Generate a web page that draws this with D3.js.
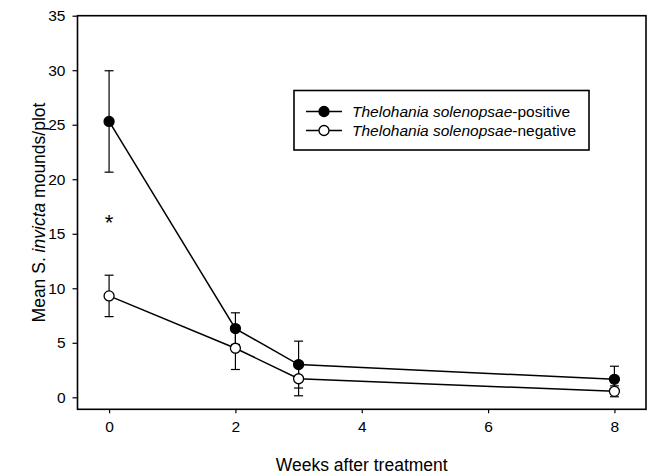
<!DOCTYPE html>
<html>
<head>
<meta charset="utf-8">
<script src="https://cdn.jsdelivr.net/npm/d3@7"></script>
<style>
  html, body { margin: 0; padding: 0; background: #fff; }
  svg { display: block; font-family: "Liberation Sans", Arial, sans-serif; }
</style>
</head>
<body>
<div id="chart"></div>
<script>
const weeks = [0, 2, 3, 8];
const positiveMean = [25.3, 6.3, 3.0, 1.65];
const positiveSE = [4.65, 1.45, 2.15, 1.2];
const negativeMean = [9.3, 4.5, 1.7, 0.55];
const negativeSE = [1.9, 1.95, 1.56, 0.5];
const xTicks = [0, 2, 4, 6, 8];
const yTicks = [0, 5, 10, 15, 20, 25, 30, 35];
const seriesNames = ['Thelohania solenopsae', 'Thelohania solenopsae'];
const seriesSuffix = ['-positive', '-negative'];
const asterisk = { week: 0, value: 16.4 };

const width = 652;
const height = 475;
const svg = d3.select('#chart').append('svg')
    .attr('width', width)
    .attr('height', height);

const x = d3.scaleLinear().domain([-0.5, 8.5]).range([77.5, 646]);
const y = d3.scaleLinear().domain([-1.1, 35]).range([409.3, 15.7]);

// frame
svg.append('rect')
    .attr('x', x.range()[0])
    .attr('y', y.range()[1])
    .attr('width', x.range()[1] - x.range()[0])
    .attr('height', y.range()[0] - y.range()[1])
    .attr('fill', 'none')
    .attr('stroke', '#000')
    .attr('stroke-width', 1.6);

const xAxis = svg.append('g')
    .attr('transform', `translate(0,${y.range()[0]})`)
    .call(d3.axisBottom(x).tickValues(xTicks).tickSize(4).tickPadding(8).tickFormat(d3.format('d')));
const yAxis = svg.append('g')
    .attr('transform', `translate(${x.range()[0]},0)`)
    .call(d3.axisLeft(y).tickValues(yTicks).tickSize(5).tickPadding(7).tickFormat(d3.format('d')));

[xAxis, yAxis].forEach(a => {
    a.select('.domain').remove();
    a.selectAll('line').attr('stroke', '#000').attr('stroke-width', 1.2);
    a.selectAll('text')
        .attr('fill', '#000')
        .style('font-size', '15.5px')
        .style('font-family', '"Liberation Sans", Arial, sans-serif');
});

// axis titles
svg.append('text')
    .attr('x', (x.range()[0] + x.range()[1]) / 2)
    .attr('y', 471)
    .attr('text-anchor', 'middle')
    .style('font-size', '17.5px')
    .text('Weeks after treatment');

const yTitle = svg.append('text')
    .attr('transform', `translate(45,${(y.range()[0] + y.range()[1]) / 2}) rotate(-90)`)
    .attr('text-anchor', 'middle')
    .style('font-size', '17.5px');
yTitle.append('tspan').text('Mean S. ');
yTitle.append('tspan').style('font-style', 'italic').text('invicta');
yTitle.append('tspan').text(' mounds/plot');

const series = [
    { mean: positiveMean, se: positiveSE, fill: '#000' },
    { mean: negativeMean, se: negativeSE, fill: '#fff' }
];

const line = d3.line().x(d => x(d[0])).y(d => y(d[1]));

series.forEach(s => {
    const pts = weeks.map((w, i) => [w, s.mean[i], s.se[i]]);
    svg.append('path')
        .datum(pts)
        .attr('fill', 'none')
        .attr('stroke', '#000')
        .attr('stroke-width', 1.5)
        .attr('d', line);
});

series.forEach(s => {
    const pts = weeks.map((w, i) => [w, s.mean[i], s.se[i]]);
    const g = svg.append('g');
    const eb = g.selectAll('.eb').data(pts).enter().append('g');
    eb.append('line')
        .attr('x1', d => x(d[0])).attr('x2', d => x(d[0]))
        .attr('y1', d => y(d[1] - d[2])).attr('y2', d => y(d[1] + d[2]))
        .attr('stroke', '#000').attr('stroke-width', 1.2);
    [-1, 1].forEach(sign => {
        eb.append('line')
            .attr('x1', d => x(d[0]) - 4.5).attr('x2', d => x(d[0]) + 4.5)
            .attr('y1', d => y(d[1] + sign * d[2])).attr('y2', d => y(d[1] + sign * d[2]))
            .attr('stroke', '#000').attr('stroke-width', 1.2);
    });
    g.selectAll('circle').data(pts).enter().append('circle')
        .attr('cx', d => x(d[0]))
        .attr('cy', d => y(d[1]))
        .attr('r', 5)
        .attr('fill', s.fill)
        .attr('stroke', '#000')
        .attr('stroke-width', 1.3);
});

// significance marker
svg.append('text')
    .attr('x', x(asterisk.week))
    .attr('y', y(asterisk.value) + 12)
    .attr('text-anchor', 'middle')
    .style('font-size', '22px')
    .text('*');

// legend
const legend = svg.append('g');
legend.append('rect')
    .attr('x', 294).attr('y', 90.5)
    .attr('width', 295).attr('height', 59.5)
    .attr('fill', '#fff')
    .attr('stroke', '#000')
    .attr('stroke-width', 1.6);

series.forEach((s, i) => {
    const ly = 111.5 + i * 19;
    legend.append('line')
        .attr('x1', 306).attr('x2', 342)
        .attr('y1', ly).attr('y2', ly)
        .attr('stroke', '#000').attr('stroke-width', 1.3);
    legend.append('circle')
        .attr('cx', 324).attr('cy', ly).attr('r', 5)
        .attr('fill', s.fill).attr('stroke', '#000').attr('stroke-width', 1.3);
    const t = legend.append('text')
        .attr('x', 352).attr('y', ly + 5.5)
        .style('font-size', '15.5px');
    t.append('tspan').style('font-style', 'italic').text(seriesNames[i]);
    t.append('tspan').text(seriesSuffix[i]);
});
</script>
</body>
</html>
